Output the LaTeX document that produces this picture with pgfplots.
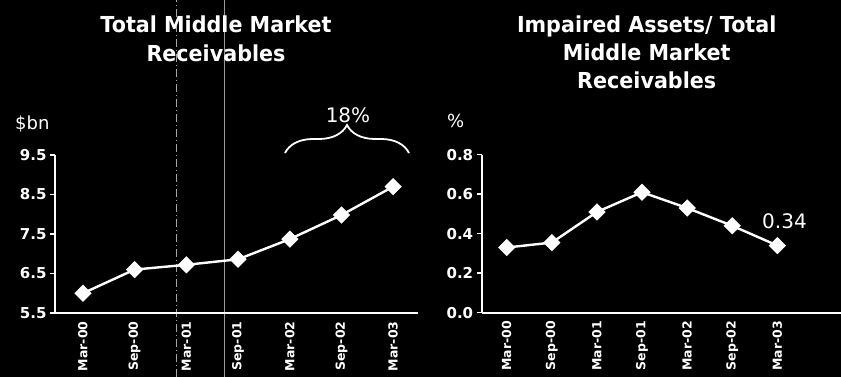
\documentclass[border=0pt]{standalone}
\usepackage{pgfplots}
\pgfplotsset{compat=1.18}
\usepackage{fontspec}
\setmainfont{DejaVu Sans}
\newfontfamily\titlefont[FakeStretch=0.94]{DejaVu Sans}
\usetikzlibrary{decorations.pathreplacing}

\pgfplotsset{
  mystyle/.style={
    scale only axis,
    anchor=south west,
    clip=false,
    axis x line=bottom, axis y line=left,
    axis line style={-, white, line width=2.2pt},
    tick align=outside,
    major tick length=5pt,
    ytick style={white, line width=1.5pt},
    xtick style={draw=none},
    xtick={0,...,6},
    xticklabels={Mar-00,Sep-00,Mar-01,Sep-01,Mar-02,Sep-02,Mar-03},
    yticklabel style={white, font=\fontsize{15}{17}\selectfont\bfseries},
    xticklabel style={white, rotate=90, anchor=east, font=\fontsize{12.5}{14}\selectfont\bfseries},
  },
  myline/.style={white, line width=2.4pt, mark=square*, mark size=4.9pt,
    mark options={rotate=45, fill=white, solid}},
}

\begin{document}
\begin{tikzpicture}[x=1pt,y=1pt]
\fill[black] (0,0) rectangle (841,377);
\path[use as bounding box] (0,0) rectangle (841,377);
% scan artefact lines
\draw[gray!70, line width=0.6pt, dash pattern=on 8pt off 3pt on 1pt off 3pt] (176,0) -- (176,377);
\draw[gray!80, line width=0.6pt] (224,0) -- (224,377);

\begin{axis}[mystyle,
  at={(55pt,64pt)}, width=363pt, height=158pt,
  xmin=-0.54, xmax=6.48, ymin=5.5, ymax=9.5,
  ytick={5.5,6.5,7.5,8.5,9.5},
  yticklabels={5.5,6.5,7.5,8.5,9.5}]
\addplot[myline] coordinates {(0,6.0) (1,6.6) (2,6.72) (3,6.86) (4,7.37) (5,7.98) (6,8.7)};
\end{axis}

\begin{axis}[mystyle,
  at={(481.7pt,64.3pt)}, width=359.3pt, height=158pt,
  xmin=-0.554, xmax=7.41, ymin=0, ymax=0.8,
  ytick={0,0.2,0.4,0.6,0.8},
  yticklabels={0.0,0.2,0.4,0.6,0.8}]
\addplot[myline] coordinates {(0,0.33) (1,0.355) (2,0.51) (3,0.61) (4,0.53) (5,0.44) (6,0.34)};
\end{axis}

% titles
\begin{scope}[every node/.style={text=white, inner sep=0pt, font=\titlefont\fontsize{22}{24}\selectfont\bfseries}]
\node[anchor=base] at (216,344.7) {Total Middle Market};
\node[anchor=base] at (216,315.3) {Receivables};
\node[anchor=base] at (646.7,344.7) {Impaired Assets/ Total};
\node[anchor=base] at (646.7,316.2) {Middle Market};
\node[anchor=base] at (646.7,288.7) {Receivables};
\end{scope}

\begin{scope}[every node/.style={text=white, inner sep=0pt}]
\node[anchor=base west, font=\fontsize{18}{20}\selectfont] at (15,247) {\$bn};
\node[anchor=base west, font=\fontsize{18}{20}\selectfont] at (447,249) {\%};
\node[anchor=base, font=\fontsize{20}{22}\selectfont] at (348,254) {18\%};
\node[anchor=base west, font=\fontsize{20}{22}\selectfont] at (762,148) {0.34};
\end{scope}

\draw[white, line width=1.8pt, decorate, decoration={brace, amplitude=28pt}] (285,224) -- (409,224);
\end{tikzpicture}
\end{document}
